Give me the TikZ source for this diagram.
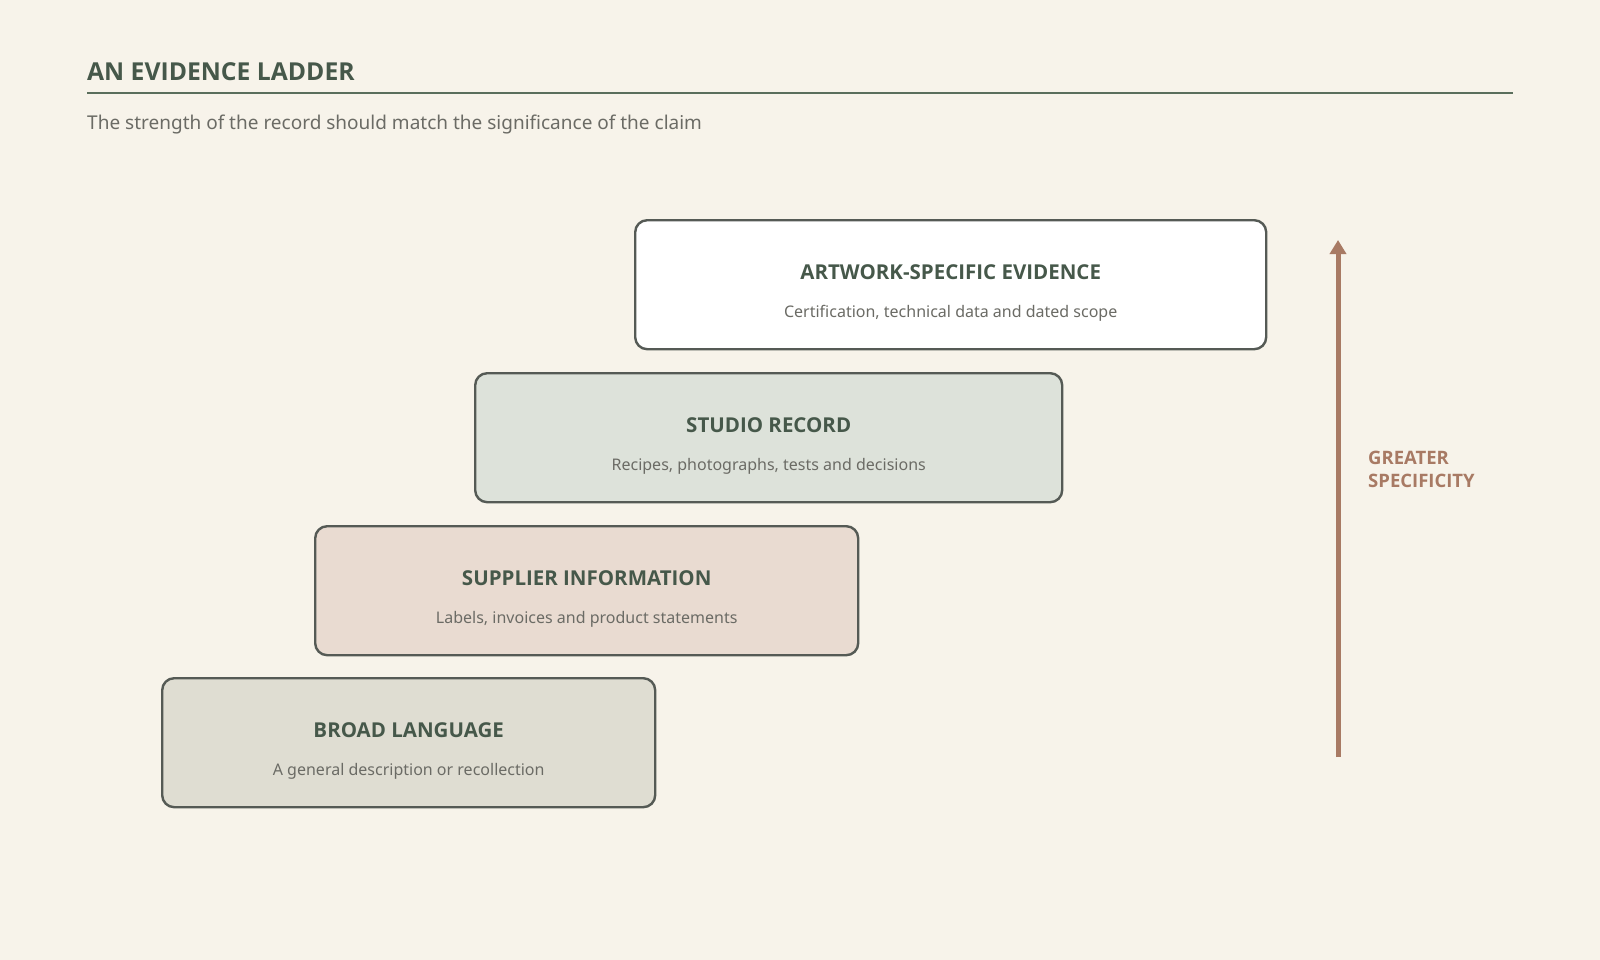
\documentclass[tikz,border=0pt]{standalone}
\usepackage{fontspec}
\setmainfont{Noto Sans}
\newfontfamily\boldfam{Open Sans}
\usetikzlibrary{arrows.meta}
\definecolor{bg}{HTML}{F7F3EA}
\definecolor{ink}{HTML}{46584A}
\definecolor{rulec}{HTML}{5A6E5C}
\definecolor{grey}{HTML}{6B6B65}
\definecolor{edge}{HTML}{555A55}
\definecolor{f1}{HTML}{FFFFFF}
\definecolor{f2}{HTML}{DDE2DA}
\definecolor{f3}{HTML}{E9DBD1}
\definecolor{f4}{HTML}{DFDDD2}
\definecolor{rust}{HTML}{A87A64}
\tikzset{
  x=1pt, y=-1pt,
  rung/.style={draw=edge, line width=2.4pt, rounded corners=12pt, anchor=north west, inner sep=0pt},
  rungtitle/.style={font=\boldfam\bfseries\fontsize{20.5}{24}\selectfont, text=ink, anchor=center},
  rungsub/.style={font=\fontsize{16}{19}\selectfont, text=grey, anchor=center},
}
\begin{document}
\begin{tikzpicture}
\fill[bg] (0,0) rectangle (1600,960);
\useasboundingbox (0,0) rectangle (1600,960);
\node[anchor=base west, inner sep=0pt, font=\boldfam\bfseries\fontsize{24.7}{28}\selectfont, text=ink] (title) at (87,81) {AN EVIDENCE LADDER};
\coordinate (rl) at (87,93);
\coordinate (rr) at (1513,93);
\draw[rulec, line width=1.8pt] (rl) -- (rr);
\node[anchor=west, inner sep=0pt, font=\fontsize{19}{22}\selectfont, text=grey] (sub) at (87,125) {The strength of the record should match the significance of the claim};

\node[rung, fill=f1, minimum width=631pt, minimum height=129pt] (b1) at (634,219) {};
\node[rung, fill=f2, minimum width=587pt, minimum height=129pt] (b2) at (474,372) {};
\node[rung, fill=f3, minimum width=543pt, minimum height=129pt] (b3) at (314,525) {};
\node[rung, fill=f4, minimum width=493pt, minimum height=129pt] (b4) at (161,677) {};

\node[rungtitle] (t1) at ([yshift=-53pt]b1.north) {ARTWORK-SPECIFIC EVIDENCE};
\node[rungsub] (s1) at ([yshift=-94pt]b1.north) {Certification, technical data and dated scope};
\node[rungtitle] (t2) at ([yshift=-53pt]b2.north) {STUDIO RECORD};
\node[rungsub] (s2) at ([yshift=-94pt]b2.north) {Recipes, photographs, tests and decisions};
\node[rungtitle] (t3) at ([yshift=-53pt]b3.north) {SUPPLIER INFORMATION};
\node[rungsub] (s3) at ([yshift=-94pt]b3.north) {Labels, invoices and product statements};
\node[rungtitle] (t4) at ([yshift=-53pt]b4.north) {BROAD LANGUAGE};
\node[rungsub] (s4) at ([yshift=-94pt]b4.north) {A general description or recollection};

\coordinate (abot) at (1338,757);
\coordinate (atop) at (1338,240);
\draw[rust, line width=5pt, -{Triangle[length=14pt,width=16pt]}] (abot) -- (atop);
\node[anchor=west, inner sep=0pt, align=left, font=\boldfam\bfseries\fontsize{18.5}{23}\selectfont, text=rust] (lab) at (1368,469) {GREATER\\SPECIFICITY};
\end{tikzpicture}
\end{document}
